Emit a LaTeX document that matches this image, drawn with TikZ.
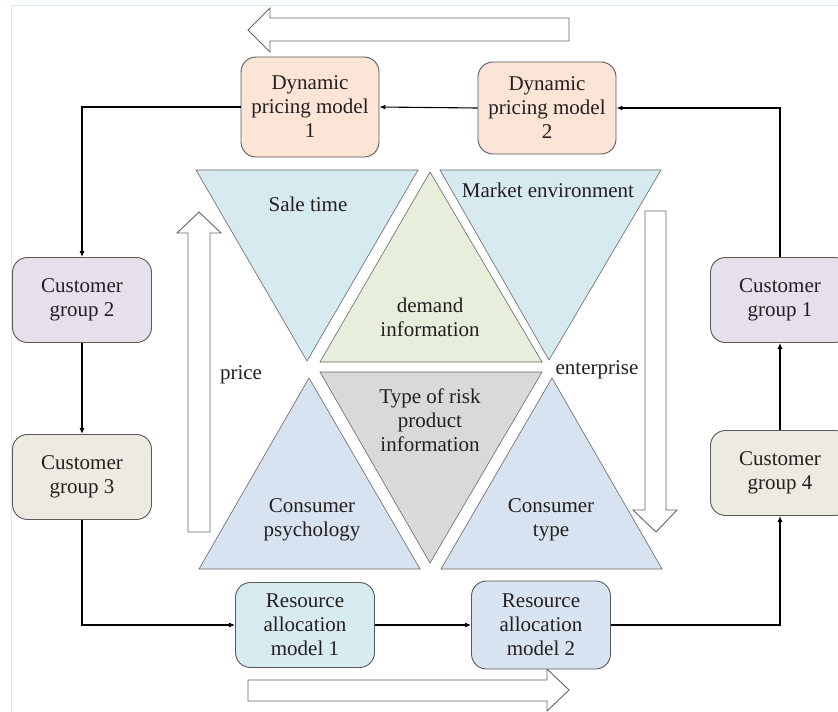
\documentclass[tikz,border=0pt]{standalone}
\usepackage{fontspec}
\setmainfont{Liberation Serif}
\usepackage{xcolor}
\usetikzlibrary{arrows.meta}

\definecolor{peach}{HTML}{FCE4D6}
\definecolor{lilac}{HTML}{E6DFEC}
\definecolor{sand}{HTML}{EDEAE2}
\definecolor{icecyan}{HTML}{D7EBF1}
\definecolor{iceblue}{HTML}{D9E4F2}
\definecolor{skytri}{HTML}{D6EAF0}
\definecolor{sagetri}{HTML}{E8EEDC}
\definecolor{greytri}{HTML}{D9D9D9}
\definecolor{bluetri}{HTML}{D7E3F1}
\definecolor{framecol}{HTML}{D6EAF3}
\definecolor{inkcol}{HTML}{231F20}

\begin{document}
\begin{tikzpicture}[x=1pt, y=-1pt,
  box/.style={rectangle, rounded corners=15pt, draw=gray!70!black, line width=0.9pt,
    minimum width=139pt, minimum height=85pt, align=center, inner sep=2pt,
    text=inkcol, font=\fontsize{21}{24}\selectfont},
  link/.style={draw=black, line width=1.1pt, -{Latex[length=6pt,width=5pt]}},
  tri/.style={draw=gray!80!black, line width=0.6pt},
  hollow/.style={draw=gray!80!black, line width=0.9pt, fill=white},
  lbl/.style={align=center, inner sep=0pt, text=inkcol, font=\fontsize{21}{24}\selectfont}]

\useasboundingbox (0,0) rectangle (838,712);
\draw[framecol, line width=1pt] (11,5) rectangle (850,730);

% big hollow arrows
\draw[hollow] (569,18) -- (270,18) -- (270,8) -- (248,30) -- (270,52) -- (270,41) -- (569,41) -- cycle;
\draw[hollow] (248,680) -- (547,680) -- (547,669) -- (569,690) -- (547,711) -- (547,701) -- (248,701) -- cycle;
\draw[hollow] (188,532) -- (188,233) -- (177,233) -- (199,212) -- (221,233) -- (210,233) -- (210,532) -- cycle;
\draw[hollow] (645,211) -- (645,510) -- (633,510) -- (656,532) -- (677,510) -- (666,510) -- (666,211) -- cycle;

% six triangles
\draw[tri, fill=skytri] (196,170) -- (418,170) -- (307,361) -- cycle;
\draw[tri, fill=sagetri] (430,172) -- (542,362) -- (320,362) -- cycle;
\draw[tri, fill=skytri] (440,170) -- (661,170) -- (549,360) -- cycle;
\draw[tri, fill=greytri] (320,372) -- (542,372) -- (430,563) -- cycle;
\draw[tri, fill=bluetri] (309,378) -- (420,569) -- (199,569) -- cycle;
\draw[tri, fill=bluetri] (552,378) -- (662,569) -- (441,569) -- cycle;

\node[lbl] (saletime) at (308,204) {Sale time};
\node[lbl] (market) at (548,190) {Market environment};
\node[lbl] (demand) at (430,317) {demand\\information};
\node[lbl] (risk) at (430,420) {Type of risk\\product\\information};
\node[lbl] (psych) at (312,520) {Consumer\\psychology};
\node[lbl] (ctype) at (551,520) {Consumer\\type};
\node[lbl] (price) at (241,375) {price};
\node[lbl] (enterp) at (597,370) {enterprise};

% boxes
\node[box, fill=peach, minimum width=138pt, minimum height=100pt] (dpm1) at (310,107) {Dynamic\\pricing model\\1};
\node[box, fill=peach, minimum width=138pt, minimum height=92pt] (dpm2) at (547,108) {Dynamic\\pricing model\\2};
\node[box, fill=lilac] (cg2) at (82,300) {Customer\\group 2};
\node[box, fill=lilac] (cg1) at (780,300) {Customer\\group 1};
\node[box, fill=sand] (cg3) at (82,477) {Customer\\group 3};
\node[box, fill=sand] (cg4) at (780,473) {Customer\\group 4};
\node[box, fill=icecyan] (ram1) at (305,625) {Resource\\allocation\\model 1};
\node[box, fill=iceblue, minimum height=88pt] (ram2) at (541,625) {Resource\\allocation\\model 2};

% connectors
\draw[link] (dpm2.west) -- (dpm1.east);
\draw[link] (dpm1.west) -| (cg2.north);
\draw[link] (cg2.south) -- (cg3.north);
\draw[link] (cg3.south) |- (ram1.west);
\draw[link] (ram1.east) -- (ram2.west);
\draw[link] (ram2.east) -| (cg4.south);
\draw[link] (cg4.north) -- (cg1.south);
\draw[link] (cg1.north) |- (dpm2.east);
\end{tikzpicture}
\end{document}
